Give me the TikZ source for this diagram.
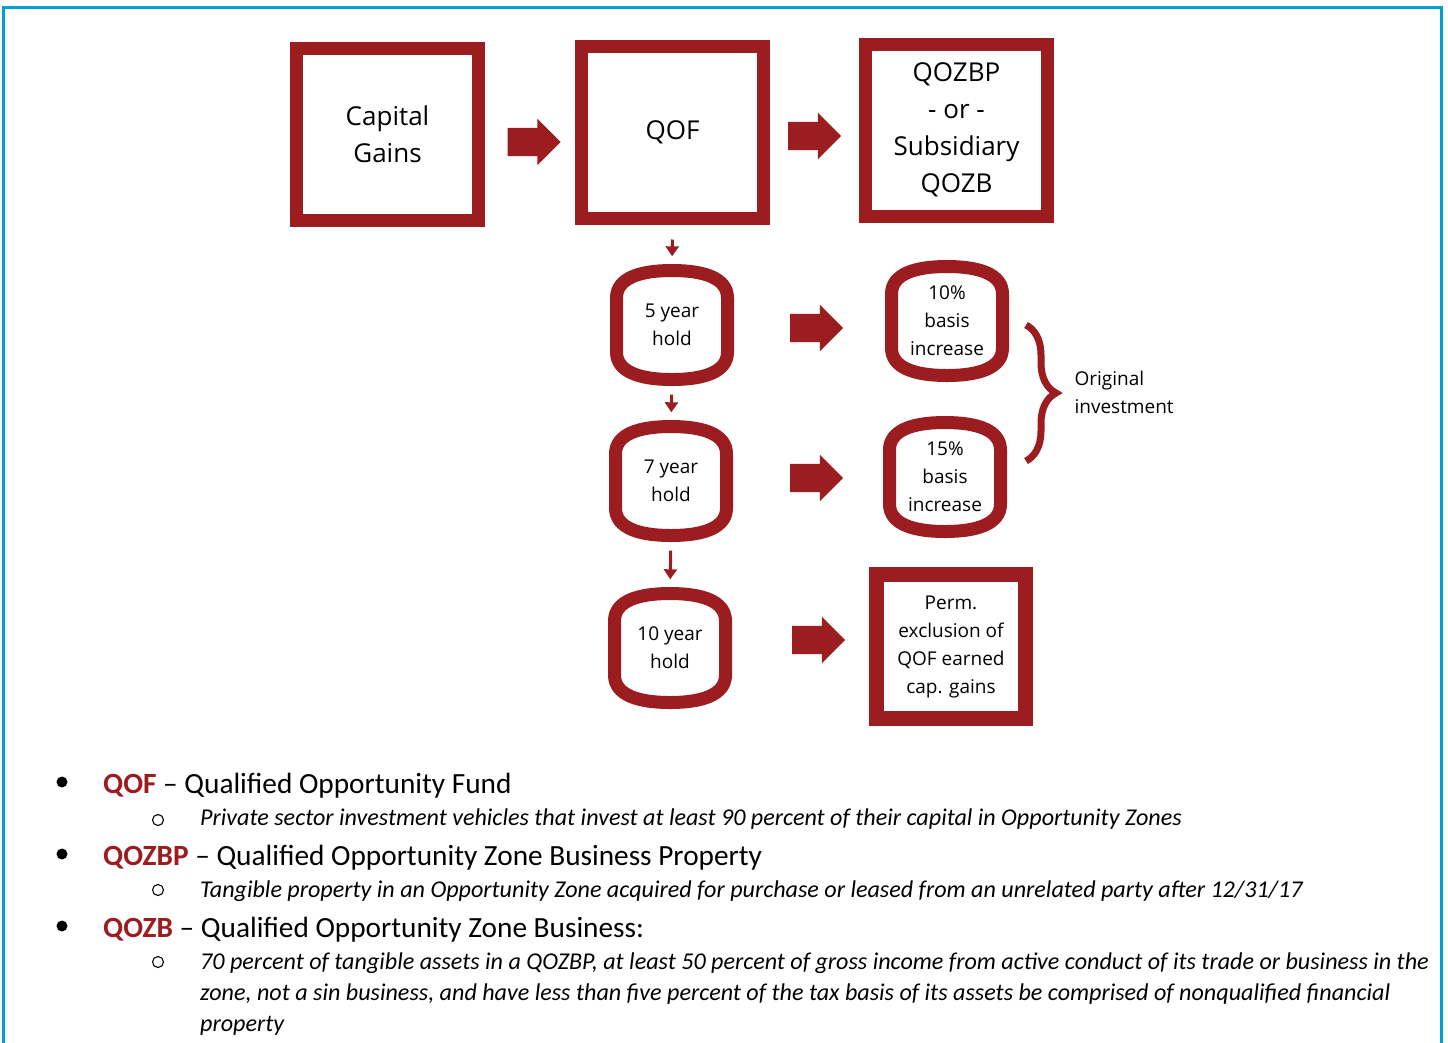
\documentclass[tikz,border=0pt]{standalone}
\usepackage{fontspec}
\setmainfont{Carlito}
\newfontfamily\diagfont{Open Sans}
\usepackage{xcolor}
\usepackage{tikz}
\usetikzlibrary{shapes.arrows}
\usetikzlibrary{decorations.pathreplacing}
\usetikzlibrary{arrows.meta}
\definecolor{qred}{RGB}{155,29,32}
\definecolor{frameblue}{RGB}{0,160,214}
\tikzset{
	sqbox/.style={draw=qred,line width=13pt,minimum width=182pt,minimum height=172pt,align=center,font=\diagfont\fontsize{26}{37}\selectfont},
	holdtext/.style={minimum width=111pt,minimum height=109pt,inner sep=0pt,align=center,font=\diagfont\fontsize{19}{28}\selectfont},
	blockarr/.style={single arrow,fill=qred,draw=none,inner sep=0pt,inner ysep=14pt,single arrow head extend=9pt,single arrow tip angle=90,minimum height=53pt},
	downarr/.style={draw=qred,line width=3pt,-{Triangle[length=10pt,width=13pt]},shorten <=15pt,shorten >=14pt},
	itemtext/.style={anchor=base west,inner sep=0pt,font=\fontsize{29.3}{34}\selectfont},
	subtext/.style={anchor=base west,inner sep=0pt,font=\fontsize{24.1}{26}\selectfont\itshape}
}
% node with the rounded-barrel outline round it
\newcommand\holdnode[3]{
	\node[holdtext] (#1) at (#2) {#3};
	\draw[qred,line width=13pt,shift={(#1.center)}] (-55.5,-27) .. controls (-55.5,-47) and (-32,-54.5) .. (0,-54.5) .. controls (32,-54.5) and (55.5,-47) .. (55.5,-27) -- (55.5,27) .. controls (55.5,47) and (32,54.5) .. (0,54.5) .. controls (-32,54.5) and (-55.5,47) .. (-55.5,27) -- cycle;
}

\begin{document}
\begin{tikzpicture}[x=1pt,y=-1pt]
	\useasboundingbox (0,0) rectangle (1448,1042);
	\draw[frameblue,line width=3pt] (3,1045)--(3,7)--(1441,7)--(1441,1045);

	% top row
	\node[sqbox] (cg) at (387.5,134.5) {Capital\\Gains};
	\node[sqbox] (qof) at (672.5,132) {QOF};
	\node[sqbox] (qozbp) at (956.5,130) {QOZBP\\- or -\\Subsidiary\\QOZB};
	\node[blockarr] (ba1) at (527,142) {};
	\node[blockarr] (ba2) at (807.5,136) {};

	% holding periods
	\holdnode{h5}{672,325}{5 year\\hold}
	\holdnode{h7}{671,481}{7 year\\hold}
	\holdnode{h10}{670,648}{10 year\\hold}
	\holdnode{b10}{947,321}{10\%\\basis\\increase}
	\holdnode{b15}{945,477}{15\%\\basis\\increase}
	\node[sqbox,line width=15pt,minimum width=149pt,minimum height=144pt,font=\diagfont\fontsize{19}{28}\selectfont] (perm) at (951,646.5) {Perm.\\exclusion of\\QOF earned\\cap. gains};

	\draw[downarr] (qof.south) -- (h5.north);
	\draw[downarr] (h5.south) -- (h7.north);
	\draw[downarr] (h7.south) -- (h10.north);
	\node[blockarr] (ba3) at (809.5,328) {};
	\node[blockarr] (ba4) at (809.5,478) {};
	\node[blockarr] (ba5) at (811.5,640) {};

	\draw[qred,line width=7pt,decorate,decoration={brace,amplitude=30pt}] (1026,325) -- (1026,461);
	\node[anchor=west,align=left,font=\diagfont\fontsize{19}{28}\selectfont] (orig) at (1071,392) {Original\\investment};

	% definitions
	\foreach \y in {782,854,926}
		\fill (62,\y) circle (5.5);
	\foreach \y in {820,890,962}
		\draw[line width=1.1pt] (158,\y) circle (5.5);
	\node[itemtext] (l1) at (103,793) {\textbf{\color{qred}QOF} -- Qualified Opportunity Fund};
	\node[subtext] (d1) at (200,825) {Private sector investment vehicles that invest at least 90 percent of their capital in Opportunity Zones};
	\node[itemtext] (l2) at (103,865) {\textbf{\color{qred}QOZBP} -- Qualified Opportunity Zone Business Property};
	\node[subtext] (d2) at (200,897) {Tangible property in an Opportunity Zone acquired for purchase or leased from an unrelated party after 12/31/17};
	\node[itemtext] (l3) at (103,937) {\textbf{\color{qred}QOZB} -- Qualified Opportunity Zone Business:};
	\node[subtext] (d3a) at (200,969) {70 percent of tangible assets in a QOZBP, at least 50 percent of gross income from active conduct of its trade or business in the};
	\node[subtext] (d3b) at (200,1000) {zone, not a sin business, and have less than five percent of the tax basis of its assets be comprised of nonqualified financial};
	\node[subtext] (d3c) at (200,1031) {property};
\end{tikzpicture}
\end{document}
